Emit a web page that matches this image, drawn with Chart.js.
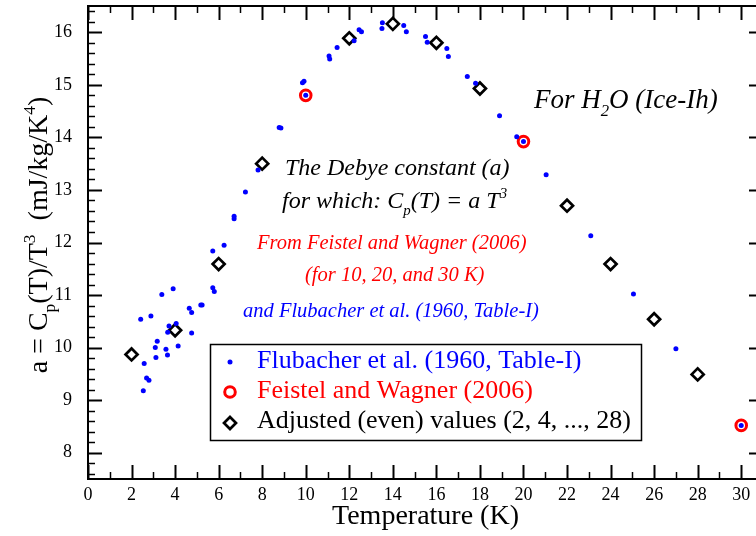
<!DOCTYPE html>
<html>
<head>
<meta charset="utf-8">
<script src="https://cdn.jsdelivr.net/npm/chart.js@4/dist/chart.umd.min.js"></script>
<style>
  html, body { margin: 0; padding: 0; background: #fff; overflow: hidden; }
  #wrap { width: 756px; height: 536px; overflow: hidden; position: relative; }
  canvas { display: block; }
</style>
</head>
<body>
<div id="wrap"><canvas id="c" width="775" height="536"></canvas></div>
<script>
// ---- Data ----
// Flubacher et al. (1960, Table-I): temperature (K) and a = Cp/T^3 (mJ/kg/K^4)
const flubT = [2.54, 2.58, 2.42, 2.69, 2.80, 2.89, 3.09, 3.12, 3.18, 3.39, 3.58, 3.65, 3.66, 3.72, 3.91,
               4.05, 4.14, 4.65, 4.76, 4.76, 5.18, 5.24, 5.73, 5.73, 5.80, 6.25, 6.71, 6.71, 7.23, 7.81,
               8.78, 8.86, 9.85, 9.92, 10.0, 11.07, 11.10, 11.44, 12.22, 12.45, 12.56, 13.52, 13.50,
               14.50, 14.62, 15.50, 15.58, 16.48, 16.55, 17.42, 17.80, 18.90, 19.69, 20.0, 21.04,
               23.09, 25.05, 27.0, 30.0];
const flubA = [9.18, 9.70, 10.54, 9.42, 9.38, 10.60, 10.00, 9.81, 10.12, 11.01, 9.97, 9.86, 10.29, 10.41, 11.12,
               10.46, 10.03, 10.75, 10.67, 10.28, 10.81, 10.81, 11.84, 11.14, 11.07, 11.95, 12.50, 12.45, 12.96, 13.38,
               14.19, 14.18, 15.04, 15.07, 14.80, 15.55, 15.49, 15.71, 15.84, 16.05, 16.01, 16.18, 16.07,
               16.13, 16.01, 15.92, 15.81, 15.69, 15.54, 15.16, 15.03, 14.41, 14.01, 13.92, 13.29,
               12.13, 11.02, 9.98, 8.52];
// Feistel and Wagner (2006)
const feistelT = [10, 20, 30];
const feistelA = [14.80, 13.92, 8.52];
// Adjusted (even) values
const adjT = [2, 4, 6, 8, 12, 14, 16, 18, 22, 24, 26, 28];
const adjA = [9.87, 10.33, 11.59, 13.50, 15.885, 16.16, 15.80, 14.93, 12.70, 11.59, 10.54, 9.49];
// Axis ranges / ticks
const xRange = [0, 31];
const yRange = [7.5, 16.5];
const xTickLabels = [0, 2, 4, 6, 8, 10, 12, 14, 16, 18, 20, 22, 24, 26, 28, 30];
const yTickLabels = [8, 9, 10, 11, 12, 13, 14, 15, 16];
const xMajorStep = 2, xMinorStep = 1;
const yMinorStep = 0.2;

const legendLabels = ['Flubacher et al. (1960, Table-I)', 'Feistel and Wagner (2006)', 'Adjusted (even) values (2, 4, ..., 28)'];
const BLUE = '#0000ff', RED = '#ff0000', BLACK = '#000000';
const SERIF = '"Liberation Serif", "Times New Roman", serif';

const pts = (xs, ys) => xs.map((v, i) => ({x: v, y: ys[i]}));

function drawRich(ctx, parts, x, y, size, color, style) {
  let cx = x;
  ctx.fillStyle = color;
  ctx.textBaseline = 'alphabetic';
  ctx.textAlign = 'left';
  for (const p of parts) {
    const s = (p.sub || p.sup) ? size * 0.62 : size;
    ctx.font = `${style || ''} ${s}px ${SERIF}`;
    const dy = p.sub ? size * 0.28 : (p.sup ? -size * 0.42 : 0);
    ctx.fillText(p.t, cx, y + dy);
    cx += ctx.measureText(p.t).width;
  }
  return cx - x;
}
function richWidth(ctx, parts, size, style) {
  let w = 0;
  for (const p of parts) {
    const s = (p.sub || p.sup) ? size * 0.62 : size;
    ctx.font = `${style || ''} ${s}px ${SERIF}`;
    w += ctx.measureText(p.t).width;
  }
  return w;
}

const gracePlugin = {
  id: 'grace',
  afterDraw(chart) {
    const {ctx, chartArea: ca, scales: {x, y}} = chart;
    ctx.save();
    // frame
    ctx.strokeStyle = BLACK;
    ctx.lineWidth = 2;
    ctx.strokeRect(ca.left, ca.top, ca.right - ca.left, ca.bottom - ca.top);
    // ticks (inward on all four sides)
    const seg = (x1, y1, x2, y2, w) => { ctx.lineWidth = w; ctx.beginPath(); ctx.moveTo(x1, y1); ctx.lineTo(x2, y2); ctx.stroke(); };
    const nx = Math.round((xRange[1] - xRange[0]) / xMinorStep);
    for (let i = 0; i <= nx; i++) {
      const v = xRange[0] + i * xMinorStep;
      const major = Math.abs(v / xMajorStep - Math.round(v / xMajorStep)) < 1e-6;
      const len = major ? 14 : 7;
      const px = Math.round(x.getPixelForValue(v)) + 0.5;
      seg(px, ca.bottom, px, ca.bottom - len, major ? 2 : 1.5);
      seg(px, ca.top, px, ca.top + len, major ? 2 : 1.5);
    }
    const y0 = Math.ceil(yRange[0] / yMinorStep - 1e-6), y1 = Math.floor(yRange[1] / yMinorStep + 1e-6);
    for (let i = y0; i <= y1; i++) {
      const v = i * yMinorStep;
      const major = Math.abs(v - Math.round(v)) < 1e-6;
      const len = major ? 14 : 7;
      const py = Math.round(y.getPixelForValue(v)) + 0.5;
      seg(ca.left, py, ca.left + len, py, major ? 2 : 1.5);
      seg(ca.right, py, ca.right - len, py, major ? 2 : 1.5);
    }

    // axis titles
    ctx.fillStyle = BLACK;
    ctx.font = `28px ${SERIF}`;
    ctx.textAlign = 'center';
    ctx.textBaseline = 'alphabetic';
    ctx.fillText('Temperature (K)', (ca.left + ca.right) / 2, 524);

    const yTitle = [{t: 'a = C'}, {t: 'p', sub: true}, {t: '(T)/T'}, {t: '3', sup: true}, {t: '  (mJ/kg/K'}, {t: '4', sup: true}, {t: ')'}];
    const tw = richWidth(ctx, yTitle, 28, '');
    ctx.save();
    ctx.translate(47, 235);
    ctx.rotate(-Math.PI / 2);
    drawRich(ctx, yTitle, -tw / 2, 0, 28, BLACK, '');
    ctx.restore();

    // annotations
    drawRich(ctx, [{t: 'For H'}, {t: '2', sub: true}, {t: 'O (Ice-Ih)'}], 534, 108, 27, BLACK, 'italic');
    drawRich(ctx, [{t: 'The Debye constant (a)'}], 285, 175, 24, BLACK, 'italic');
    drawRich(ctx, [{t: 'for which: C'}, {t: 'p', sub: true}, {t: '(T) = a T'}, {t: '3', sup: true}], 282, 208, 24, BLACK, 'italic');
    drawRich(ctx, [{t: 'From Feistel and Wagner (2006)'}], 257, 249, 20.5, RED, 'italic');
    drawRich(ctx, [{t: '(for 10, 20, and 30 K)'}], 305, 281, 20.5, RED, 'italic');
    drawRich(ctx, [{t: 'and Flubacher et al. (1960, Table-I)'}], 243, 317, 20.5, BLUE, 'italic');

    // legend box
    ctx.lineWidth = 1.5;
    ctx.strokeStyle = BLACK;
    ctx.strokeRect(210.5, 344.5, 431, 96);
    const mx = 230;
    const rows = [368, 398, 428];
    // markers
    ctx.fillStyle = BLUE;
    ctx.beginPath(); ctx.arc(mx, rows[0] - 6, 2.5, 0, Math.PI * 2); ctx.fill();
    ctx.strokeStyle = RED; ctx.lineWidth = 3;
    ctx.beginPath(); ctx.arc(mx, rows[1] - 6, 5.3, 0, Math.PI * 2); ctx.stroke();
    ctx.strokeStyle = BLACK; ctx.lineWidth = 2.7;
    const r = 6, dyc = rows[2] - 5;
    ctx.beginPath(); ctx.moveTo(mx, dyc - r); ctx.lineTo(mx + r, dyc); ctx.lineTo(mx, dyc + r); ctx.lineTo(mx - r, dyc); ctx.closePath(); ctx.stroke();
    // labels
    ctx.font = `26px ${SERIF}`;
    ctx.textAlign = 'left';
    ctx.textBaseline = 'alphabetic';
    [BLUE, RED, BLACK].forEach((c, i) => { ctx.fillStyle = c; ctx.fillText(legendLabels[i], 257, rows[i]); });
    ctx.restore();
  }
};

new Chart(document.getElementById('c'), {
  type: 'scatter',
  data: {
    datasets: [
      { label: legendLabels[0], data: pts(flubT, flubA), order: 1,
        pointStyle: 'circle', pointRadius: 2.5, pointBorderWidth: 0,
        backgroundColor: BLUE, borderColor: BLUE },
      { label: legendLabels[2], data: pts(adjT, adjA), order: 2,
        pointStyle: 'rectRot', pointRadius: 6, pointBorderWidth: 2.7,
        backgroundColor: 'rgba(0,0,0,0)', borderColor: BLACK },
      { label: legendLabels[1], data: pts(feistelT, feistelA), order: 3,
        pointStyle: 'circle', pointRadius: 5.3, pointBorderWidth: 3,
        backgroundColor: 'rgba(0,0,0,0)', borderColor: RED }
    ]
  },
  options: {
    responsive: false,
    animation: false,
    devicePixelRatio: 1,
    layout: { autoPadding: false, padding: { top: 6, right: 12, left: 0, bottom: 0 } },
    plugins: { legend: { display: false }, tooltip: { enabled: false } },
    scales: {
      x: {
        type: 'linear', min: xRange[0], max: xRange[1],
        grid: { display: false, drawTicks: false }, border: { display: false },
        afterBuildTicks: s => { s.ticks = xTickLabels.map(v => ({value: v})); },
        ticks: { padding: 5, color: BLACK, maxRotation: 0, autoSkip: false,
                 font: { family: SERIF, size: 18 } },
        afterFit: s => { s.height = 57; s.paddingLeft = 0; s.paddingRight = 0; }
      },
      y: {
        type: 'linear', min: yRange[0], max: yRange[1],
        grid: { display: false, drawTicks: false }, border: { display: false },
        afterBuildTicks: s => { s.ticks = yTickLabels.map(v => ({value: v})); },
        ticks: { padding: 16, color: BLACK, autoSkip: false,
                 font: { family: SERIF, size: 18 } },
        afterFit: s => { s.width = 88; s.paddingTop = 0; s.paddingBottom = 0; }
      }
    }
  },
  plugins: [gracePlugin]
});
</script>
</body>
</html>
